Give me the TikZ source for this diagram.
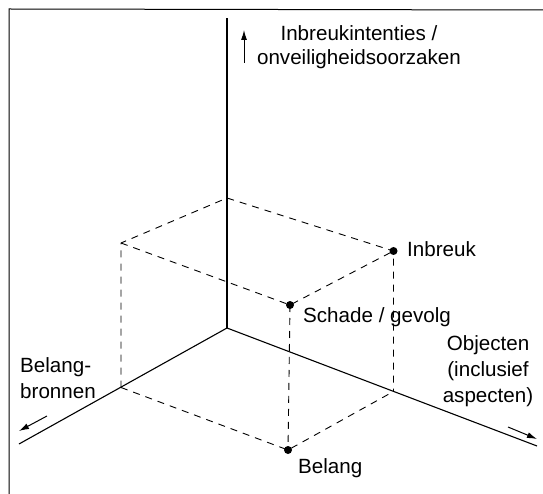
\documentclass[tikz,border=0pt]{standalone}
\usepackage{fontspec}
\setmainfont{Liberation Sans}
\usetikzlibrary{arrows.meta}
\begin{document}
\begin{tikzpicture}[x=1pt,y=-1pt,
  axis/.style={line width=1.1pt},
  dashline/.style={line width=0.9pt, dash pattern=on 7pt off 6pt},
  dirarrow/.style={line width=1pt, -{Latex[length=10pt,width=6pt]}},
  dot/.style={circle, fill=black, inner sep=0pt, minimum size=8pt},
  lbl/.style={inner sep=0pt, font=\fontsize{20.6}{26}\selectfont},
  frameline/.style={line width=1pt}]
\useasboundingbox (0,0) rectangle (543,494);
% frame
\coordinate (fbl) at (9,494);
\coordinate (ftl) at (9,9);
\coordinate (ftr) at (543,10);
\draw[frameline] (fbl) -- (ftl) -- (ftr);
% axes
\coordinate (O) at (227,328);
\coordinate (ztop) at (227,18);
\coordinate (xend) at (19,444);
\coordinate (yend) at (537,446);
\draw[axis] (O) -- (ztop);
\draw[axis] (O) -- (xend);
\draw[axis] (O) -- (yend);
% box corners
\coordinate (A) at (121,387.5);
\coordinate (B) at (393.5,391.5);
\coordinate (T) at (227,198);
\coordinate (LT) at (121,243);
\node[dot] (belang) at (288,450) {};
\node[dot] (schade) at (290,305) {};
\node[dot] (inbreuk) at (393.5,251) {};
% dashed box
\draw[dashline] (A) -- (belang.center) -- (B);
\draw[dashline] (A) -- (LT) -- (T) -- (inbreuk.center) -- (B);
\draw[dashline] (LT) -- (schade.center) -- (inbreuk.center);
\draw[dashline] (schade.center) -- (belang.center);
% direction arrows
\coordinate (zu1) at (244,63);
\coordinate (zu2) at (244,30);
\draw[dirarrow] (zu1) -- (zu2);
\coordinate (xa1) at (47,416);
\coordinate (xa2) at (19,431);
\draw[dirarrow] (xa1) -- (xa2);
\coordinate (ya1) at (508,427);
\coordinate (ya2) at (537,439);
\draw[dirarrow] (ya1) -- (ya2);
% labels
\node[lbl, align=center, font=\fontsize{20.6}{24}\selectfont] (zlabel) at (359,47) {Inbreukintenties /\\onveiligheidsoorzaken};
\node[lbl, align=center] (ylabel) at (488,371) {Objecten\\(inclusief\\aspecten)};
\node[lbl, align=left, anchor=west] (xlabel) at (20,378) {Belang-\\bronnen};
\node[lbl, anchor=base west] (tinbreuk) at (407,257) {Inbreuk};
\node[lbl, anchor=base west] (tschade) at (303,322) {Schade / gevolg};
\node[lbl, anchor=base west] (tbelang) at (298,473) {Belang};
\end{tikzpicture}
\end{document}
